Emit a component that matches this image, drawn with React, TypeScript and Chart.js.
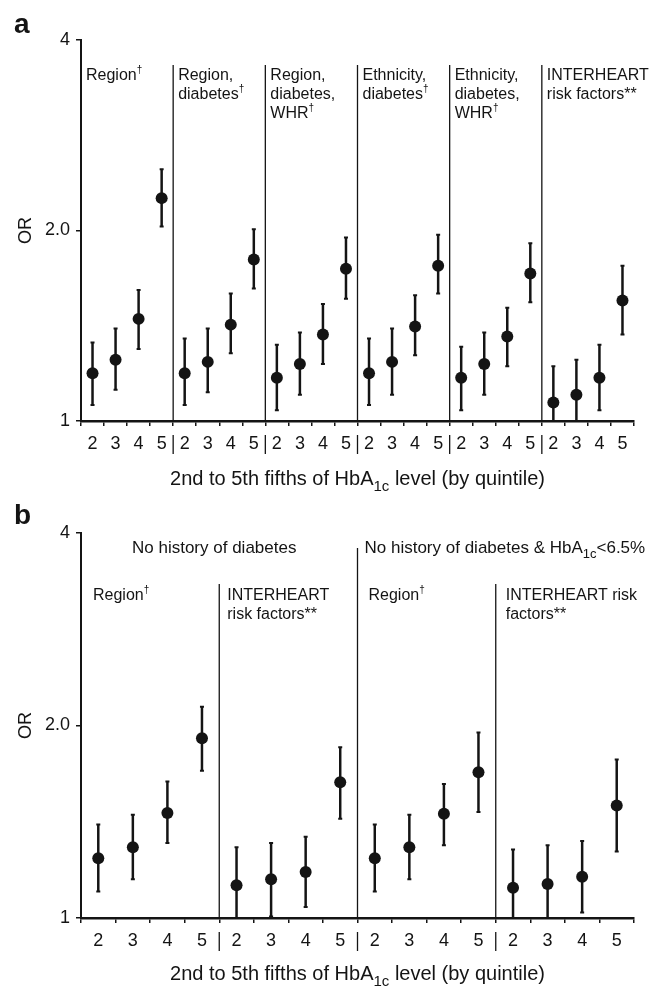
import React, { useEffect, useRef } from 'react';
import { Chart, registerables } from 'chart.js';

Chart.register(...registerables);

const FONT = '"Liberation Sans", Arial, Helvetica, sans-serif';
const INK = '#141414';

// ---------- shared axis data ----------
const quintileLabels = ['2', '3', '4', '5'];
const yTickValues = [1, 2, 4];
const yTickLabels = ['1', '2.0', '4'];
const yTitle = 'OR';
const xTitle = '2nd to 5th fifths of HbA1c level (by quintile)';

// ---------- panel a ----------
const panelASections = [
  ['Region†'],
  ['Region,', 'diabetes†'],
  ['Region,', 'diabetes,', 'WHR†'],
  ['Ethnicity,', 'diabetes†'],
  ['Ethnicity,', 'diabetes,', 'WHR†'],
  ['INTERHEART', 'risk factors**'],
];
const panelAOR = [
  1.19, 1.25, 1.45, 2.25,
  1.19, 1.24, 1.42, 1.80,
  1.17, 1.23, 1.37, 1.74,
  1.19, 1.24, 1.41, 1.76,
  1.17, 1.23, 1.36, 1.71,
  1.07, 1.10, 1.17, 1.55,
];
const panelALower = [
  1.06, 1.12, 1.30, 2.03,
  1.06, 1.11, 1.28, 1.62,
  1.04, 1.10, 1.23, 1.56,
  1.06, 1.10, 1.27, 1.59,
  1.04, 1.10, 1.22, 1.54,
  0.93, 0.96, 1.04, 1.37,
];
const panelAUpper = [
  1.33, 1.40, 1.61, 2.50,
  1.35, 1.40, 1.59, 2.01,
  1.32, 1.38, 1.53, 1.95,
  1.35, 1.40, 1.58, 1.97,
  1.31, 1.38, 1.51, 1.91,
  1.22, 1.25, 1.32, 1.76,
];

// ---------- panel b ----------
const panelBGroups = ['No history of diabetes', 'No history of diabetes & HbA1c<6.5%'];
const panelBSections = [
  ['Region†'],
  ['INTERHEART', 'risk factors**'],
  ['Region†'],
  ['INTERHEART risk', 'factors**'],
];
const panelBOR = [
  1.24, 1.29, 1.46, 1.91,
  1.125, 1.15, 1.18, 1.63,
  1.24, 1.29, 1.455, 1.69,
  1.115, 1.13, 1.16, 1.50,
];
const panelBLower = [
  1.10, 1.15, 1.31, 1.70,
  0.97, 1.005, 1.04, 1.43,
  1.10, 1.15, 1.30, 1.465,
  0.97, 0.99, 1.02, 1.27,
];
const panelBUpper = [
  1.40, 1.45, 1.635, 2.14,
  1.29, 1.31, 1.34, 1.85,
  1.40, 1.45, 1.62, 1.95,
  1.28, 1.30, 1.32, 1.77,
];

// ---------- rich text helper (sub/superscripts) ----------
type Seg = { t: string; k: 'n' | 'sub' | 'sup' };
function segments(text: string): Seg[] {
  const out: Seg[] = [];
  const re = /(?<=HbA)1c|†/g;
  let last = 0;
  let m: RegExpExecArray | null;
  while ((m = re.exec(text))) {
    if (m.index > last) out.push({ t: text.slice(last, m.index), k: 'n' });
    out.push({ t: m[0], k: m[0] === '†' ? 'sup' : 'sub' });
    last = m.index + m[0].length;
  }
  if (last < text.length) out.push({ t: text.slice(last), k: 'n' });
  return out;
}
function drawRich(ctx: CanvasRenderingContext2D, text: string, x: number, y: number, size: number, align: 'left' | 'center') {
  const segs = segments(text);
  const fontFor = (k: string) =>
    `${k === 'n' ? size : k === 'sub' ? Math.round(size * 0.75) : Math.round(size * 0.62)}px ${FONT}`;
  let w = 0;
  for (const s of segs) {
    ctx.font = fontFor(s.k);
    w += ctx.measureText(s.t).width;
  }
  let cx = align === 'center' ? x - w / 2 : x;
  ctx.textAlign = 'left';
  ctx.textBaseline = 'alphabetic';
  for (const s of segs) {
    ctx.font = fontFor(s.k);
    const dy = s.k === 'sub' ? size * 0.3 : s.k === 'sup' ? -size * 0.45 : 0;
    ctx.fillText(s.t, cx, y + dy);
    cx += ctx.measureText(s.t).width;
  }
}

type Header = { text: string; boundary: number; dx: number };
type PanelSpec = {
  letter: string;
  letterBaseline: number;
  canvasTop: number;
  height: number;
  padTop: number;
  padBottom: number;
  or: number[];
  lo: number[];
  hi: number[];
  sections: string[][];
  sectionDx: number[];
  lineBaselines: number[];
  dividerTops: number[];
  headers: Header[];
  headerBaseline: number;
  titleBaseline: number;
};

const panelA: PanelSpec = {
  letter: 'a',
  letterBaseline: 33,
  canvasTop: 0,
  height: 500,
  padTop: 40,
  padBottom: 19,
  or: panelAOR,
  lo: panelALower,
  hi: panelAUpper,
  sections: panelASections,
  sectionDx: [5, 5, 5, 5, 5, 5],
  lineBaselines: [80, 99, 118],
  dividerTops: [65, 65, 65, 65, 65],
  headers: [],
  headerBaseline: 0,
  titleBaseline: 485,
};

const panelB: PanelSpec = {
  letter: 'b',
  letterBaseline: 34,
  canvasTop: 490,
  height: 497,
  padTop: 43,
  padBottom: 9,
  or: panelBOR,
  lo: panelBLower,
  hi: panelBUpper,
  sections: panelBSections,
  sectionDx: [12, 8, 11, 10],
  lineBaselines: [110, 129],
  dividerTops: [94, 58, 94],
  headers: [
    { text: panelBGroups[0], boundary: -1, dx: 51 },
    { text: panelBGroups[1], boundary: 1, dx: 7 },
  ],
  headerBaseline: 63,
  titleBaseline: 490,
};

function Panel({ spec }: { spec: PanelSpec }) {
  const ref = useRef<HTMLCanvasElement>(null);
  useEffect(() => {
    const canvas = ref.current!;
    const labels = spec.sections.flatMap(() => quintileLabels);
    const boundaryPx = (chart: any, k: number) =>
      k < 0 ? chart.chartArea.left : chart.scales.x.getPixelForValue((k + 1) * 4 - 0.5);

    const overlay = {
      id: 'overlay',
      beforeDatasetsDraw(chart: any) {
        const { ctx, chartArea: ca, scales } = chart;
        const x = scales.x;
        const y = scales.y;
        ctx.save();
        ctx.strokeStyle = INK;
        ctx.lineCap = 'butt';
        // section dividers
        ctx.lineWidth = 1.3;
        spec.dividerTops.forEach((t, k) => {
          const px = boundaryPx(chart, k);
          ctx.beginPath();
          ctx.moveTo(px, t);
          ctx.lineTo(px, ca.bottom);
          ctx.stroke();
          // separator in the tick-label row
          ctx.beginPath();
          ctx.moveTo(px, ca.bottom + 14);
          ctx.lineTo(px, ca.bottom + 33);
          ctx.stroke();
        });
        // error bars (clipped to plot area)
        ctx.beginPath();
        ctx.rect(ca.left, ca.top, ca.right - ca.left, ca.bottom - ca.top);
        ctx.clip();
        for (let i = 0; i < spec.or.length; i++) {
          const px = x.getPixelForValue(i);
          const y1 = y.getPixelForValue(spec.lo[i]);
          const y2 = y.getPixelForValue(spec.hi[i]);
          ctx.lineWidth = 2.5;
          ctx.beginPath();
          ctx.moveTo(px, y1);
          ctx.lineTo(px, y2);
          ctx.stroke();
          ctx.lineWidth = 2;
          ctx.beginPath();
          ctx.moveTo(px - 2, y1);
          ctx.lineTo(px + 2, y1);
          ctx.moveTo(px - 2, y2);
          ctx.lineTo(px + 2, y2);
          ctx.stroke();
        }
        ctx.restore();
      },
      afterDraw(chart: any) {
        const { ctx, chartArea: ca } = chart;
        ctx.save();
        ctx.fillStyle = INK;
        // panel letter
        ctx.font = `bold 28px ${FONT}`;
        ctx.textAlign = 'left';
        ctx.textBaseline = 'alphabetic';
        ctx.fillText(spec.letter, 14, spec.letterBaseline);
        // group headers
        spec.headers.forEach((h) => {
          drawRich(ctx, h.text, boundaryPx(chart, h.boundary) + h.dx, spec.headerBaseline, 17, 'left');
        });
        // section labels
        spec.sections.forEach((lines, k) => {
          const x0 = boundaryPx(chart, k - 1) + spec.sectionDx[k];
          lines.forEach((ln, j) => drawRich(ctx, ln, x0, spec.lineBaselines[j], 16, 'left'));
        });
        // x axis title
        drawRich(ctx, xTitle, (ca.left + ca.right) / 2, spec.titleBaseline, 20, 'center');
        ctx.restore();
      },
    };

    const chart = new Chart(canvas, {
      type: 'line',
      data: {
        labels,
        datasets: [
          {
            data: spec.or,
            showLine: false,
            pointRadius: 6,
            pointHoverRadius: 6,
            pointBackgroundColor: INK,
            pointBorderColor: INK,
            pointBorderWidth: 0,
            borderColor: INK,
          },
        ],
      },
      options: {
        responsive: false,
        animation: false,
        events: [],
        layout: { padding: { left: 0, top: spec.padTop, right: 28, bottom: spec.padBottom } },
        plugins: { legend: { display: false }, tooltip: { enabled: false } },
        scales: {
          x: {
            type: 'category',
            offset: true,
            grid: { offset: true, drawOnChartArea: false, drawTicks: true, tickLength: 5, color: INK, lineWidth: 1.5 },
            border: { display: true, color: INK, width: 2.5 },
            ticks: { autoSkip: false, maxRotation: 0, padding: 7, color: INK, font: { size: 18, family: FONT } },
            afterFit: (s: any) => {
              s.height = 60;
            },
          },
          y: {
            type: 'logarithmic',
            min: 1,
            max: 4,
            afterBuildTicks: (s: any) => {
              s.ticks = yTickValues.map((v) => ({ value: v }));
            },
            ticks: {
              callback: (v: any) => {
                const i = yTickValues.indexOf(Number(v));
                return i >= 0 ? yTickLabels[i] : '';
              },
              padding: 6,
              color: INK,
              font: { size: 18, family: FONT },
            },
            grid: { drawOnChartArea: false, drawTicks: true, tickLength: 5, color: INK, lineWidth: 1.5 },
            border: { display: true, color: INK, width: 2 },
            title: { display: true, text: yTitle, color: INK, padding: { top: 15, bottom: 0 }, font: { size: 18, family: FONT } },
            afterFit: (s: any) => {
              s.width = 81;
            },
          },
        },
      },
      plugins: [overlay],
    } as any);
    return () => chart.destroy();
  }, [spec]);
  return (
    <canvas
      ref={ref}
      width={662}
      height={spec.height}
      style={{ position: 'absolute', left: 0, top: spec.canvasTop, display: 'block', width: 662, height: spec.height }}
    />
  );
}

export default function App() {
  return (
    <div style={{ position: 'absolute', left: 0, top: 0, width: 662, height: 987, background: '#fff' }}>
      <Panel spec={panelA} />
      <Panel spec={panelB} />
    </div>
  );
}
